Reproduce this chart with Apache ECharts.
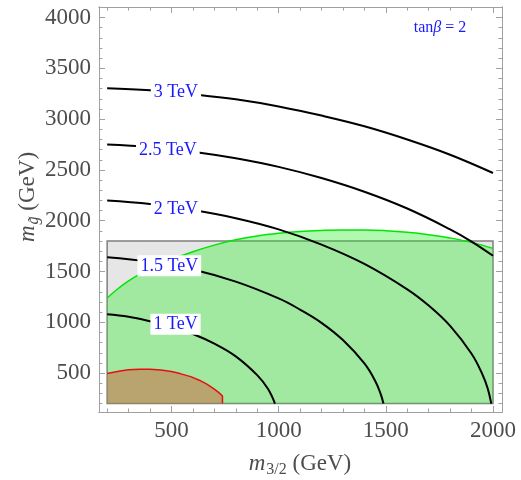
<!DOCTYPE html>
<html>
<head>
<meta charset="utf-8">
<script src="https://cdn.jsdelivr.net/npm/echarts@6/dist/echarts.min.js"></script>
<style>
  html, body { margin: 0; background: #fff; }
  #chart { width: 521px; height: 480px; }
</style>
</head>
<body>
<div id="chart"></div>
<script>
// gluino mass vs gravitino mass, tanβ = 2
const xMajorTicks = [500, 1000, 1500, 2000];
const xMinorTicks = [200, 300, 400, 500, 600, 700, 800, 900, 1000, 1100, 1200, 1300, 1400, 1500, 1600, 1700, 1800, 1900, 2000];
const yMajorTicks = [500, 1000, 1500, 2000, 2500, 3000, 3500, 4000];
const yMinorTicks = [200, 300, 400, 500, 600, 700, 800, 900, 1000, 1100, 1200, 1300, 1400, 1500, 1600, 1700, 1800, 1900, 2000,
  2100, 2200, 2300, 2400, 2500, 2600, 2700, 2800, 2900, 3000, 3100, 3200, 3300, 3400, 3500, 3600, 3700, 3800, 3900, 4000, 4100];

// gray box
const grayBox = [[200, 200], [200, 1800], [2000, 1800], [2000, 200]];

// upper edge of green region
const greenEdge = [[200, 1239], [250, 1330], [300, 1408], [350, 1472], [400, 1527], [500, 1618], [600, 1695],
  [700, 1760], [800, 1812], [900, 1850], [1000, 1876], [1100, 1894], [1200, 1904], [1300, 1909], [1400, 1909],
  [1500, 1902], [1600, 1887], [1700, 1863], [1800, 1830], [1900, 1787], [2000, 1728]];
const greenBase = [[2000, 200], [200, 200]];

// red region edge
const redEdge = [[200, 495], [260, 520], [300, 532], [350, 537], [400, 538], [450, 531], [500, 515], [540, 495],
  [590, 465], [630, 430], [665, 392], [695, 350], [720, 310], [738, 275], [738, 200]];
const redBase = [[200, 200]];

// contours
const c1TeV = [[200, 1080], [300, 1055], [400, 1010], [500, 955], [600, 885], [700, 790], [800, 665], [900, 480], [950, 345], [983, 200]];
const c15TeV = [[200, 1640], [400, 1595], [600, 1520], [800, 1400], [1000, 1235], [1100, 1125], [1200, 995], [1300, 825],
  [1400, 595], [1450, 425], [1475, 300], [1489, 200]];
const c2TeV = [[200, 2200], [400, 2165], [600, 2105], [800, 2025], [1000, 1915], [1200, 1765], [1400, 1575], [1600, 1325],
  [1700, 1165], [1800, 965], [1900, 690], [1950, 490], [1975, 350], [1992, 200]];
const c25TeV = [[200, 2750], [400, 2725], [600, 2680], [800, 2615], [1000, 2530], [1200, 2420], [1400, 2285], [1600, 2120],
  [1800, 1915], [1900, 1795], [2000, 1655]];
const c3TeV = [[200, 3305], [400, 3285], [600, 3245], [800, 3195], [1000, 3125], [1200, 3035], [1400, 2930], [1600, 2800],
  [1800, 2650], [2000, 2470]];
const contourLabels = [[519, 981, '1 TeV'], [490, 1556, '1.5 TeV'], [521, 2110, '2 TeV'], [483, 2695, '2.5 TeV'], [521, 3260, '3 TeV']];

const serif = 'Liberation Serif';
const frameColor = '#a0a0a0';
const textGray = '#4d4d4d';
const blue = '#1a1aff';

const chart = echarts.init(document.getElementById('chart'));

function plain(v) { return String(v); }

function xAx(position, ticks, len, withLabels) {
  return {
    type: 'value', min: 162, max: 2042, position: position,
    axisLine: { show: true, onZero: false, lineStyle: { color: frameColor, width: 1 } },
    axisTick: { show: true, inside: true, length: len, customValues: ticks, lineStyle: { color: frameColor } },
    axisLabel: withLabels
      ? { show: true, customValues: xMajorTicks, formatter: plain, margin: 7, color: textGray, fontFamily: serif, fontSize: 23 }
      : { show: false },
    splitLine: { show: false }
  };
}
function yAx(position, ticks, len, withLabels) {
  return {
    type: 'value', min: 117, max: 4104, position: position,
    axisLine: { show: true, onZero: false, lineStyle: { color: frameColor, width: 1 } },
    axisTick: { show: true, inside: true, length: len, customValues: ticks, lineStyle: { color: frameColor } },
    axisLabel: withLabels
      ? { show: true, customValues: yMajorTicks, formatter: plain, margin: 8, color: textGray, fontFamily: serif, fontSize: 23 }
      : { show: false },
    splitLine: { show: false }
  };
}

function polygon(points, style, z) {
  return {
    type: 'custom', xAxisIndex: 0, yAxisIndex: 0, silent: true, z: z,
    data: points,
    renderItem: function (params, api) {
      if (params.dataIndex !== 0) return null;
      return {
        type: 'polygon',
        shape: { points: points.map(function (p) { return api.coord(p); }) },
        style: style
      };
    }
  };
}

function curve(points, color, width, z) {
  return {
    type: 'line', xAxisIndex: 0, yAxisIndex: 0, data: points, symbol: 'none', z: z,
    smooth: 0.4,
    lineStyle: { color: color, width: width }, silent: true
  };
}

const option = {
  animation: false,
  grid: { left: 99, right: 19, top: 7, bottom: 68 },
  xAxis: [
    xAx('bottom', xMajorTicks, 6, true),
    xAx('bottom', xMinorTicks, 3.5, false),
    xAx('top', xMajorTicks, 6, false),
    xAx('top', xMinorTicks, 3.5, false)
  ],
  yAxis: [
    yAx('left', yMajorTicks, 6, true),
    yAx('left', yMinorTicks, 3.5, false),
    yAx('right', yMajorTicks, 6, false),
    yAx('right', yMinorTicks, 3.5, false)
  ],
  graphic: [
    {
      type: 'text', x: 440, y: 28, z: 100,
      style: {
        text: '{a|tan}{b|β}{a| = 2}',
        align: 'center', verticalAlign: 'middle',
        rich: {
          a: { fontFamily: serif, fontSize: 16, fill: blue, color: blue },
          b: { fontFamily: serif, fontSize: 16, fontStyle: 'italic', fill: blue, color: blue }
        }
      }
    },
    {
      type: 'text', x: 300, y: 464, z: 100,
      style: {
        text: '{i|m}{s|3/2}{n| (GeV)}',
        align: 'center', verticalAlign: 'middle',
        rich: {
          i: { fontFamily: serif, fontSize: 23, fontStyle: 'italic', color: textGray, fill: textGray },
          s: { fontFamily: serif, fontSize: 16, color: textGray, fill: textGray, padding: [12, 0, 0, 1] },
          n: { fontFamily: serif, fontSize: 23, color: textGray, fill: textGray }
        }
      }
    },
    {
      type: 'text', x: 28, y: 197, rotation: Math.PI / 2, z: 100,
      style: {
        text: '{i|m}{s|g\u0303}{n| (GeV)}',
        align: 'center', verticalAlign: 'middle',
        rich: {
          i: { fontFamily: serif, fontSize: 23, fontStyle: 'italic', color: textGray, fill: textGray },
          s: { fontFamily: serif, fontSize: 16, fontStyle: 'italic', color: textGray, fill: textGray, padding: [12, 0, 0, 1] },
          n: { fontFamily: serif, fontSize: 23, color: textGray, fill: textGray }
        }
      }
    }
  ],
  series: [
    polygon(grayBox, { fill: '#e6e6e6', stroke: '#7f7f7f', lineWidth: 1.5 }, 1),
    polygon(greenEdge.concat(greenBase), { fill: 'rgba(40,235,40,0.36)' }, 2),
    polygon(redEdge.concat(redBase), { fill: 'rgba(205,105,70,0.55)' }, 3),
    curve(greenEdge, '#00e600', 1.5, 4),
    {
      type: 'line', xAxisIndex: 0, yAxisIndex: 0, data: redEdge, symbol: 'none', z: 4, silent: true,
      lineStyle: { color: '#e61010', width: 1.5 }
    },
    curve(c1TeV, '#000', 2, 5),
    curve(c15TeV, '#000', 2, 5),
    curve(c2TeV, '#000', 2, 5),
    curve(c25TeV, '#000', 2, 5),
    curve(c3TeV, '#000', 2, 5),
    {
      type: 'scatter', xAxisIndex: 0, yAxisIndex: 0, data: contourLabels, symbolSize: 1, z: 10, silent: true,
      itemStyle: { color: 'rgba(0,0,0,0)', opacity: 1 },
      label: {
        show: true, position: 'inside', opacity: 1,
        formatter: function (p) { return p.value[2]; },
        color: blue, fontFamily: serif, fontSize: 18,
        backgroundColor: '#fff', padding: [2, 3, 1, 3]
      }
    }
  ]
};

chart.setOption(option);
window.addEventListener('resize', function () {
  chart.resize();
});
</script>
</body>
</html>
